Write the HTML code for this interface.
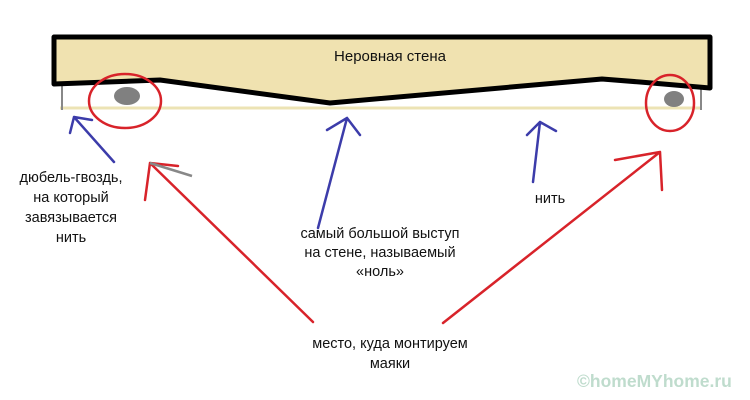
<!DOCTYPE html>
<html><head><meta charset="utf-8"><style>
html,body{margin:0;padding:0;background:#fff;width:750px;height:400px;overflow:hidden}
svg text{font-family:"Liberation Sans","DejaVu Sans",sans-serif;fill:#111}
</style></head><body>
<svg width="750" height="400" viewBox="0 0 750 400" xmlns="http://www.w3.org/2000/svg">
<line x1="60" y1="108" x2="702" y2="108" stroke="#ece3b4" stroke-width="3"/>
<line x1="62" y1="86" x2="62" y2="110" stroke="#888" stroke-width="2"/>
<line x1="701" y1="88" x2="701" y2="110" stroke="#888" stroke-width="2"/>
<path d="M54,37 L710,37 L710,88 L640,82 L602,79 L330,103 L160,80 L54,84 Z" fill="#f0e2b0" stroke="#000" stroke-width="5" stroke-linejoin="round"/>
<text x="390" y="61" font-size="15" text-anchor="middle">Неровная стена</text>
<ellipse cx="127" cy="96" rx="13" ry="9" fill="#808080"/>
<ellipse cx="674" cy="99" rx="10" ry="8" fill="#808080"/>
<ellipse cx="125" cy="101" rx="36" ry="27" fill="none" stroke="#d8232a" stroke-width="2.5"/>
<ellipse cx="670" cy="103" rx="24" ry="28" fill="none" stroke="#d8232a" stroke-width="2.5"/>
<g stroke="#3c3caa" stroke-width="2.5" fill="none" stroke-linecap="round">
<path d="M114,162 L74,117 M74,117 L70,133 M74,117 L92,120"/>
<path d="M318,228 L347,118 M347,118 L327,130 M347,118 L360,135"/>
<path d="M533,182 L540,122 M540,122 L527,135 M540,122 L556,131"/>
</g>
<g stroke="#d8232a" stroke-width="2.5" fill="none" stroke-linecap="round">
<path d="M313,322 L150,163 M150,163 L145,200 M150,163 L178,166"/>
<path d="M443,323 L660,152 M660,152 L615,160 M660,152 L662,190"/>
</g>
<line x1="150" y1="163" x2="192" y2="176" stroke="#888" stroke-width="2.5"/>
<g font-size="14.5" text-anchor="middle">
<text x="71" y="182">дюбель-гвоздь,</text>
<text x="71" y="202">на который</text>
<text x="71" y="222">завязывается</text>
<text x="71" y="242">нить</text>
<text x="550" y="203">нить</text>
<text x="380" y="238">самый большой выступ</text>
<text x="380" y="257">на стене, называемый</text>
<text x="380" y="276">«ноль»</text>
<text x="390" y="348">место, куда монтируем</text>
<text x="390" y="368">маяки</text>
</g>
<text x="577" y="387" font-size="17.5" font-weight="bold" style="fill:#bfdccd">©homeMYhome.ru</text>
</svg>
</body></html>
